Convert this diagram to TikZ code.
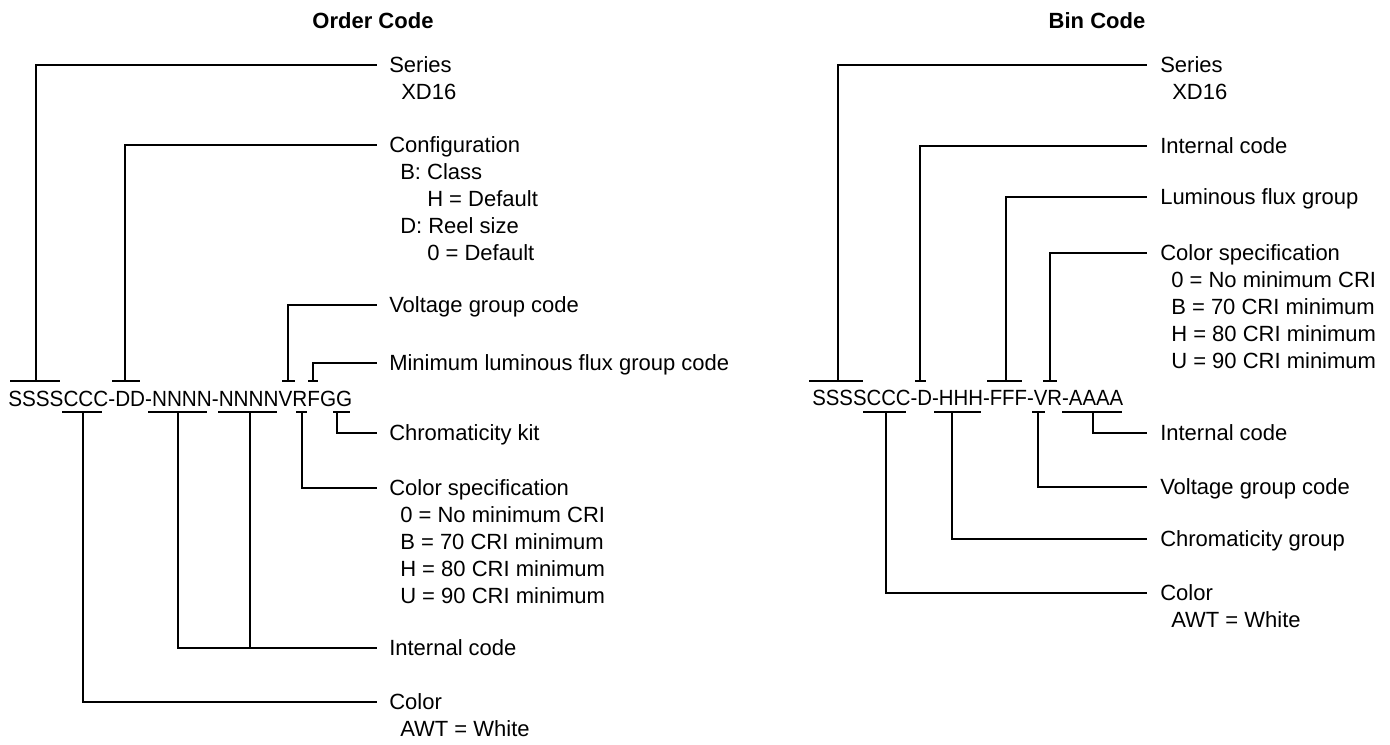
\documentclass[tikz,border=0pt]{standalone}
\usepackage{fontspec}
\usepackage{graphicx}
\setmainfont{Liberation Sans}
\begin{document}
\begin{tikzpicture}[x=0.75pt,y=-0.75pt,
  conn/.style={line width=1.5pt, line join=miter},
  barline/.style={line width=1.5pt},
  lbl/.style={anchor=base west, inner sep=0pt, font=\fontsize{16.5}{20}\selectfont},
  ttl/.style={anchor=base, inner sep=0pt, font=\fontsize{16.5}{20}\selectfont\bfseries},
  codetxt/.style={anchor=base west, inner sep=0pt, font=\fontsize{16.5}{20}\selectfont}]
\useasboundingbox (0,0) rectangle (1390,744);

% ---------------- Titles
\node[ttl] (tOrder) at (373,28) {Order Code};
\node[ttl] (tBin) at (1097,28) {Bin Code};

% ================= LEFT: ORDER CODE
\node[codetxt] (codeL) at (8,406) {\resizebox{258pt}{\height}{SSSSCCC-DD-NNNN-NNNNVRFGG}};

% over bars
\draw[barline] (10,381) -- (60,381);
\draw[barline] (112,381) -- (140,381);
\draw[barline] (282,381) -- (295,381);
\draw[barline] (308,381) -- (318,381);
% under bars
\draw[barline] (62,412) -- (102,412);
\draw[barline] (148,412) -- (207,412);
\draw[barline] (218,412) -- (277,412);
\draw[barline] (296,412) -- (307,412);
\draw[barline] (333,412) -- (350,412);

% bar attach points
\coordinate (bLS) at (36,381);
\coordinate (bLD) at (125,381);
\coordinate (bLV) at (288,381);
\coordinate (bLF) at (313,381);
\coordinate (bLG) at (337,412);
\coordinate (bLR) at (302,412);
\coordinate (bLN1) at (178,412);
\coordinate (bLN2) at (250,412);
\coordinate (bLC) at (83,412);

% line ends
\coordinate (eLS) at (377,65);
\coordinate (eLD) at (377,145);
\coordinate (eLV) at (377,305);
\coordinate (eLF) at (377,363);
\coordinate (eLG) at (377,433);
\coordinate (eLR) at (377,488);
\coordinate (eLN) at (377,648);
\coordinate (eLC) at (377,702);
\coordinate (jLN) at (250,648);

\draw[conn] (bLS) |- (eLS);
\draw[conn] (bLD) |- (eLD);
\draw[conn] (bLV) |- (eLV);
\draw[conn] (bLF) |- (eLF);
\draw[conn] (bLG) |- (eLG);
\draw[conn] (bLR) |- (eLR);
\draw[conn] (bLN1) |- (eLN);
\draw[conn] (bLN2) -- (jLN);
\draw[conn] (bLC) |- (eLC);

% labels
\node[lbl] (lLS1) at (389,72) {Series};
\node[lbl] (lLS2) at (401,99) {XD16};
\node[lbl] (lLD1) at (389,152) {Configuration};
\node[lbl] (lLD2) at (400,179) {B: Class};
\node[lbl] (lLD3) at (427,206) {H = Default};
\node[lbl] (lLD4) at (400,233) {D: Reel size};
\node[lbl] (lLD5) at (427,260) {0 = Default};
\node[lbl] (lLV) at (389,312) {Voltage group code};
\node[lbl] (lLF) at (389,370) {Minimum luminous flux group code};
\node[lbl] (lLG) at (389,440) {Chromaticity kit};
\node[lbl] (lLR1) at (389,495) {Color specification};
\node[lbl] (lLR2) at (400,522) {0 = No minimum CRI};
\node[lbl] (lLR3) at (400,549) {B = 70 CRI minimum};
\node[lbl] (lLR4) at (400,576) {H = 80 CRI minimum};
\node[lbl] (lLR5) at (400,603) {U = 90 CRI minimum};
\node[lbl] (lLN) at (389,655) {Internal code};
\node[lbl] (lLC1) at (389,709) {Color};
\node[lbl] (lLC2) at (400,736) {AWT = White};

% ================= RIGHT: BIN CODE
\node[codetxt] (codeR) at (812,405) {\resizebox{233.25pt}{\height}{SSSSCCC-D-HHH-FFF-VR-AAAA}};

% over bars
\draw[barline] (809,381) -- (863,381);
\draw[barline] (915,381) -- (926,381);
\draw[barline] (987,381) -- (1022,381);
\draw[barline] (1043,381) -- (1057,381);
% under bars
\draw[barline] (863,412) -- (906,412);
\draw[barline] (934,412) -- (981,412);
\draw[barline] (1032,412) -- (1045,412);
\draw[barline] (1062,412) -- (1122,412);

\coordinate (bRS) at (838,381);
\coordinate (bRD) at (920,381);
\coordinate (bRF) at (1006,381);
\coordinate (bRR) at (1050,381);
\coordinate (bRA) at (1093,412);
\coordinate (bRV) at (1038,412);
\coordinate (bRH) at (952,412);
\coordinate (bRC) at (886,412);

\coordinate (eRS) at (1147,65);
\coordinate (eRD) at (1147,146);
\coordinate (eRF) at (1147,197);
\coordinate (eRR) at (1147,253);
\coordinate (eRA) at (1147,433);
\coordinate (eRV) at (1147,487);
\coordinate (eRH) at (1147,539);
\coordinate (eRC) at (1147,593);

\draw[conn] (bRS) |- (eRS);
\draw[conn] (bRD) |- (eRD);
\draw[conn] (bRF) |- (eRF);
\draw[conn] (bRR) |- (eRR);
\draw[conn] (bRA) |- (eRA);
\draw[conn] (bRV) |- (eRV);
\draw[conn] (bRH) |- (eRH);
\draw[conn] (bRC) |- (eRC);

\node[lbl] (lRS1) at (1160,72) {Series};
\node[lbl] (lRS2) at (1172,99) {XD16};
\node[lbl] (lRD) at (1160,153) {Internal code};
\node[lbl] (lRF) at (1160,204) {Luminous flux group};
\node[lbl] (lRR1) at (1160,260) {Color specification};
\node[lbl] (lRR2) at (1171,287) {0 = No minimum CRI};
\node[lbl] (lRR3) at (1171,314) {B = 70 CRI minimum};
\node[lbl] (lRR4) at (1171,341) {H = 80 CRI minimum};
\node[lbl] (lRR5) at (1171,368) {U = 90 CRI minimum};
\node[lbl] (lRA) at (1160,440) {Internal code};
\node[lbl] (lRV) at (1160,494) {Voltage group code};
\node[lbl] (lRH) at (1160,546) {Chromaticity group};
\node[lbl] (lRC1) at (1160,600) {Color};
\node[lbl] (lRC2) at (1171,627) {AWT = White};
\end{tikzpicture}
\end{document}
